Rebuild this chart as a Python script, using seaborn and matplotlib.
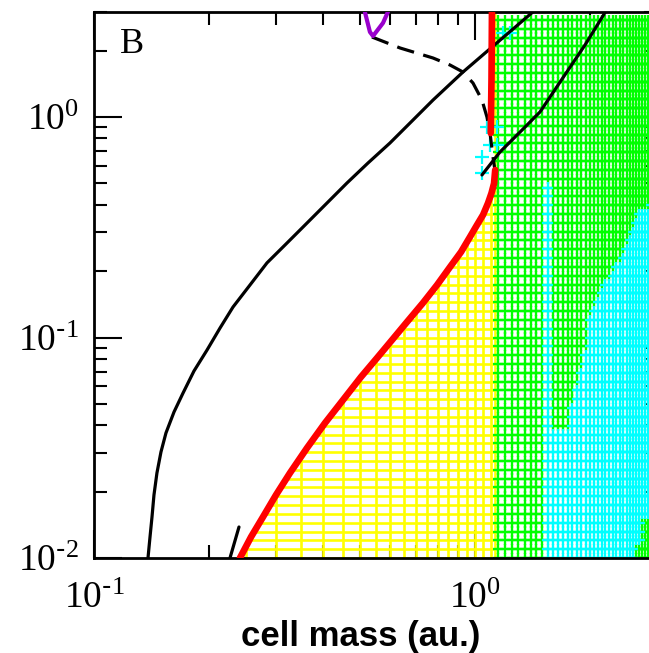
import numpy as np
import pandas as pd
import seaborn as sns
import matplotlib.pyplot as plt
from matplotlib.patches import Polygon
from matplotlib.ticker import LogLocator, NullFormatter, FuncFormatter

# curves (cell mass, rate)
red_x = [0.2416, 0.2583, 0.2777, 0.3004, 0.3269, 0.3623, 0.404, 0.4504, 0.502, 0.553, 0.6056,
         0.663, 0.730, 0.795, 0.860, 0.919, 0.970, 1.012, 1.050, 1.082, 1.105, 1.122, 1.130]
red_y = [0.0100, 0.01245, 0.01535, 0.01931, 0.0243, 0.03154, 0.04095, 0.05207, 0.0662, 0.0807, 0.0974,
         0.1176, 0.1434, 0.173, 0.2088, 0.2442, 0.2857, 0.3237, 0.360, 0.407, 0.452, 0.500, 0.575]
red_top_x = [1.100, 1.105, 1.108]
red_top_y = [0.846, 1.5, 3.0]

black1_x = [0.1386, 0.1403, 0.142, 0.1437, 0.1463, 0.1499, 0.1545, 0.1622, 0.1713, 0.1830, 0.198, 0.2142,
            0.2317, 0.2567, 0.2845, 0.3172, 0.3537, 0.404, 0.4613, 0.524, 0.598, 0.6834, 0.776, 0.930, 1.42]
black1_y = [0.0100, 0.01245, 0.01535, 0.01931, 0.0243, 0.03025, 0.0369, 0.04594, 0.056, 0.07047, 0.0877, 0.1104,
            0.1375, 0.173, 0.218, 0.2627, 0.317, 0.399, 0.502, 0.619, 0.762, 0.959, 1.194, 1.60, 3.0]
black2_x = [0.2275, 0.2402]
black2_y = [0.0100, 0.01382]
black3_x = [1.043, 1.163, 1.313, 1.481, 1.672, 1.944, 2.20]
black3_y = [0.546, 0.694, 0.855, 1.054, 1.441, 2.121, 3.0]

dash_x = [0.5366, 0.636, 0.776, 0.860, 0.930, 0.988, 1.043, 1.075, 1.095, 1.115, 1.128]
dash_y = [2.306, 2.056, 1.852, 1.721, 1.60, 1.426, 1.194, 1.0, 0.846, 0.659, 0.575]

purple_x = [0.514, 0.530, 0.540, 0.5735, 0.591]
purple_y = [3.0, 2.43, 2.33, 2.67, 3.0]

# stray cyan points near the boundary
cyan_pts_x = [1.075, 1.142, 1.095, 1.142, 1.043, 1.043, 1.185, 1.236]
cyan_pts_y = [0.901, 0.901, 0.746, 0.746, 0.659, 0.557, 2.40, 2.40]

# region map: green right of the yellow zone, cyan below an edge
yellow_right = 1.14
cyan_col_x = 1.55
cyan_col_top = 0.52
cyan_edge_x = [1.60, 1.75, 1.80, 1.85, 1.90, 1.95, 2.00, 2.10, 2.20, 2.35, 2.50, 2.65, 2.80, 3.00]
cyan_edge_y = [0.039, 0.0393, 0.05, 0.06, 0.075, 0.09, 0.124, 0.155, 0.18, 0.209, 0.257, 0.352, 0.39, 0.42]
green_corner_x = [2.65, 2.75]
green_corner_y = [0.012, 0.0145]

grid_x = np.round(np.arange(1.15, 3.0001, 0.05), 2)
grid_y = 0.01 * 10 ** (np.arange(0, 62) / 25)
yellow_cols = np.append(np.round(np.arange(0.25, 1.1001, 0.05), 2), 1.13)


def region(x, y):
    if x == cyan_col_x and y < cyan_col_top:
        return 'cyan'
    if x >= green_corner_x[1] and y <= green_corner_y[1]:
        return 'green'
    if x >= green_corner_x[0] and y <= green_corner_y[0]:
        return 'green'
    if x >= cyan_edge_x[0]:
        edge = np.exp(np.interp(x, cyan_edge_x, np.log(cyan_edge_y)))
        if y < edge:
            return 'cyan'
    return 'green'


rows = [(x, y, region(x, y)) for x in grid_x for y in grid_y]
grid = pd.DataFrame(rows, columns=['mass', 'rate', 'state'])
# green first so the cyan crosses sit on top
grid = grid.sort_values('state', ascending=False, kind='stable')
stray = pd.DataFrame({'mass': cyan_pts_x, 'rate': cyan_pts_y, 'state': 'cyan'})

sns.set_style('ticks')
plt.rcParams['font.family'] = ['Liberation Serif', 'DejaVu Serif']
plt.rcParams['axes.linewidth'] = 2
plt.rcParams['axes.edgecolor'] = 'black'
plt.rcParams['text.color'] = 'black'
plt.rcParams['axes.labelcolor'] = 'black'
plt.rcParams['xtick.color'] = 'black'
plt.rcParams['ytick.color'] = 'black'

fig = plt.figure(figsize=(6.49, 6.53), dpi=100)
ax = fig.add_axes([0.1448, 0.1455, 0.8672, 0.8364])
ax.set_xscale('log')
ax.set_yscale('log')
ax.set_xlim(0.1, 3)
ax.set_ylim(0.01, 3)

palette = {'green': '#00ff00', 'cyan': '#00ffff'}
sns.scatterplot(data=grid, x='mass', y='rate', hue='state', palette=palette,
                marker='+', s=55, linewidth=1.7, legend=False, ax=ax, zorder=2)

# yellow mesh under the red curve
verts = list(zip(red_x, red_y)) + [(1.12, 0.85), (red_top_x[-1], 3.0),
                                   (yellow_right, 3.0), (yellow_right, 0.01)]
clip = Polygon(verts, closed=True, transform=ax.transData)
vl = ax.vlines(yellow_cols, 0.01, 3.0, colors='#ffff00', lw=1.9, zorder=1)
hl = ax.hlines(grid_y, 0.2, yellow_right, colors='#ffff00', lw=1.9, zorder=1)
vl.set_clip_path(clip)
hl.set_clip_path(clip)

sns.scatterplot(data=stray, x='mass', y='rate', color='#00ffff', marker='+',
                s=90, linewidth=1.6, legend=False, ax=ax, zorder=3)

for xs, ys in [(black1_x, black1_y), (black2_x, black2_y), (black3_x, black3_y)]:
    sns.lineplot(x=xs, y=ys, sort=False, estimator=None, color='black', lw=2.3, ax=ax, zorder=4)
sns.lineplot(x=dash_x, y=dash_y, sort=False, estimator=None, color='black', lw=2.3,
             linestyle=(0, (5.5, 3.0)), ax=ax, zorder=4)
sns.lineplot(x=red_x, y=red_y, sort=False, estimator=None, color='#ff0000', lw=4.8, ax=ax, zorder=5)
sns.lineplot(x=red_top_x, y=red_top_y, sort=False, estimator=None, color='#ff0000', lw=4.8, ax=ax, zorder=5)
sns.lineplot(x=purple_x, y=purple_y, sort=False, estimator=None, color='#9900cc', lw=3, ax=ax, zorder=5)

ax.set_xlim(0.1, 3)
ax.set_ylim(0.01, 3)


def decade_label(v, pos):
    n = int(round(np.log10(v)))
    if n < 0:
        return r'$\mathregular{10^{\text{-}%d}}$' % (-n)
    return r'$\mathregular{10^{%d}}$' % n


fmt = FuncFormatter(decade_label)
for axis in (ax.xaxis, ax.yaxis):
    axis.set_major_locator(LogLocator(base=10, numticks=10))
    axis.set_minor_locator(LogLocator(base=10, subs=np.arange(2, 10), numticks=10))
    axis.set_major_formatter(fmt)
    axis.set_minor_formatter(NullFormatter())

ax.tick_params(which='both', direction='in', top=True, right=True, width=1.5, color='black',
               labelcolor='black')
ax.tick_params(which='major', length=20, labelsize=27)
ax.tick_params(which='minor', length=9.5)
ax.tick_params(axis='x', which='major', pad=17)
ax.tick_params(axis='y', which='major', pad=11)

ax.set_ylabel('')
ax.set_xlabel('cell mass (au.)', fontfamily='Liberation Sans', fontweight='bold', fontsize=25,
              color='black')
ax.xaxis.set_label_coords(0.474, -0.114)

ax.text(0.046, 0.925, 'B', transform=ax.transAxes, fontsize=26, va='baseline', color='black')

fig.savefig('out.png', dpi=100)
